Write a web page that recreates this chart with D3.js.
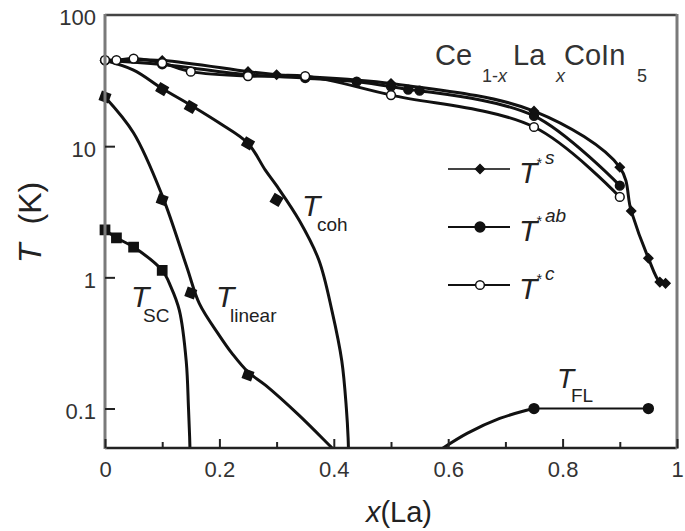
<!DOCTYPE html>
<html><head><meta charset="utf-8">
<script src="https://cdn.jsdelivr.net/npm/d3@7"></script>
<style>
html,body{margin:0;padding:0;background:#fff;}
svg{display:block;font-family:"Liberation Sans",Arial,sans-serif;}
</style></head>
<body>
<svg id="c" width="685" height="531"></svg>
<script>
// ---- data ----
const xTicksMajor = [0, 0.2, 0.4, 0.6, 0.8, 1];
const xTickLabels = ["0", "0.2", "0.4", "0.6", "0.8", "1"];
const xTicksMinor = [0.1, 0.3, 0.5, 0.7, 0.9];
const yTicks = [0.1, 1, 10, 100];
const yTickLabels = ["0.1", "1", "10", "100"];

// T*s (small filled diamonds)
const tsX = [0, 0.1, 0.25, 0.3, 0.5, 0.75, 0.9, 0.92, 0.95, 0.97, 0.98];
const tsV = [45, 45, 37, 35, 30, 18.5, 6.9, 3.2, 1.4, 0.92, 0.9];
// T*ab (filled circles)
const tabX = [0, 0.1, 0.25, 0.35, 0.44, 0.5, 0.53, 0.55, 0.75, 0.9];
const tabV = [45, 42, 35, 33, 31, 28.5, 27, 26.5, 17, 5.0];
// T*c (open circles)
const tcX = [0, 0.02, 0.05, 0.1, 0.15, 0.25, 0.35, 0.5, 0.75, 0.9];
const tcV = [45.3, 45.3, 46.5, 43, 37, 34.2, 34.2, 24.5, 14, 4.1];

// T_coh
const cohX = [0.1, 0.15, 0.25, 0.3];
const cohV = [27.2, 19.9, 10.5, 3.9];
const cohFitX = [0, 0.05, 0.1, 0.15, 0.2, 0.25, 0.28, 0.3, 0.34, 0.374, 0.397, 0.414, 0.422, 0.425, 0.426];
const cohFitV = [45, 38, 27.5, 20.5, 15, 10.5, 6.6, 5.0, 2.7, 1.35, 0.55, 0.23, 0.1, 0.06, 0.04];

// T_linear
const linX = [0, 0.1, 0.15, 0.25];
const linV = [23.7, 3.9, 0.76, 0.18];
const linFitX = [0, 0.05, 0.1, 0.143, 0.165, 0.2, 0.223, 0.25, 0.281, 0.339, 0.397, 0.41];
const linFitV = [23.7, 12.6, 4.2, 1.2, 0.63, 0.36, 0.26, 0.19, 0.15, 0.089, 0.05, 0.044];

// T_SC
const scX = [0, 0.02, 0.05, 0.1];
const scV = [2.3, 2.0, 1.7, 1.13];
const scFitX = [0, 0.02, 0.05, 0.1, 0.115, 0.13, 0.142, 0.146, 0.148, 0.149];
const scFitV = [2.3, 2.0, 1.7, 1.13, 0.85, 0.56, 0.23, 0.1, 0.06, 0.04];

// T_FL
const flX = [0.75, 0.95];
const flV = [0.1, 0.1];
const flFitX = [0.585, 0.633, 0.69, 0.737, 0.75];
const flFitV = [0.048, 0.0646, 0.084, 0.097, 0.1];

// ---- drawing ----
const svg = d3.select("#c");
const L = 105, R = 677, T = 15, B = 448;
const x = d3.scaleLinear().domain([0, 1]).range([L, R]);
const y = d3.scaleLog().domain([0.05, 100]).range([B, T]);
const ink = "#111";

svg.append("defs").append("clipPath").attr("id", "plot")
  .append("rect").attr("x", L).attr("y", T).attr("width", R - L).attr("height", B - T);

const zip = (xs, vs) => xs.map((d, i) => [d, vs[i]]);
const line = d3.line().x(d => x(d[0])).y(d => y(d[1])).curve(d3.curveCatmullRom.alpha(0.5));

const g = svg.append("g").attr("clip-path", "url(#plot)");
function curve(xs, vs, w) {
  g.append("path").datum(zip(xs, vs)).attr("d", line)
    .attr("fill", "none").attr("stroke", ink).attr("stroke-width", w)
    .attr("stroke-linejoin", "round").attr("stroke-linecap", "round");
}
curve(tcX, tcV, 3);
curve(tabX, tabV, 3);
curve(tsX, tsV, 3);
curve(cohFitX, cohFitV, 3);
curve(linFitX, linFitV, 3);
curve(scFitX, scFitV, 3);
curve(flFitX, flFitV, 3);
g.append("path").datum(zip(flX, flV)).attr("d", d3.line().x(d => x(d[0])).y(d => y(d[1])))
  .attr("fill", "none").attr("stroke", ink).attr("stroke-width", 1.8);

function marks(xs, vs, type, size, fill, rot) {
  svg.append("g").selectAll("path").data(zip(xs, vs)).join("path")
    .attr("d", d3.symbol().type(type).size(size))
    .attr("transform", d => `translate(${x(d[0])},${y(d[1])}) rotate(${rot || 0})`)
    .attr("fill", fill).attr("stroke", ink).attr("stroke-width", 1.5);
}
marks(tabX, tabV, d3.symbolCircle, 60, ink);
marks(tsX, tsV, d3.symbolSquare, 40, ink, 45);
marks(tcX, tcV, d3.symbolCircle, 60, "#fff");
marks(cohX, cohV, d3.symbolSquare, 80, ink, 30);
marks(linX, linV, d3.symbolSquare, 75, ink, 20);
marks(scX, scV, d3.symbolSquare, 85, ink);
marks(flX, flV, d3.symbolCircle, 75, ink);

// ---- frame & axes ----
svg.append("line").attr("x1", L).attr("x2", R).attr("y1", T).attr("y2", T).attr("stroke", "#444").attr("stroke-width", 2.5);
svg.append("line").attr("x1", L).attr("x2", R).attr("y1", B).attr("y2", B).attr("stroke", "#222").attr("stroke-width", 2.5);
svg.append("line").attr("x1", L).attr("x2", L).attr("y1", T - 1).attr("y2", B + 1).attr("stroke", "#7a7a7a").attr("stroke-width", 3);
svg.append("line").attr("x1", R).attr("x2", R).attr("y1", T - 1).attr("y2", B + 1).attr("stroke", "#7a7a7a").attr("stroke-width", 3);

const xAxis = svg.append("g").attr("transform", `translate(0,${B})`)
  .call(d3.axisBottom(x).tickValues(xTicksMajor).tickSize(-9).tickFormat((d, i) => xTickLabels[i]));
const xAxisMinor = svg.append("g").attr("transform", `translate(0,${B})`)
  .call(d3.axisBottom(x).tickValues(xTicksMinor).tickSize(-6).tickFormat(""));
const yAxis = svg.append("g").attr("transform", `translate(${L},0)`)
  .call(d3.axisLeft(y).tickValues(yTicks).tickSize(-10).tickFormat((d, i) => yTickLabels[i]));
[xAxis, xAxisMinor, yAxis].forEach(a => {
  a.select(".domain").remove();
  a.selectAll(".tick line").attr("stroke", "#222").attr("stroke-width", 2);
  a.selectAll(".tick text").attr("fill", "#333").attr("font-size", 22)
    .attr("font-family", "'Liberation Sans',Arial,sans-serif");
});
xAxis.selectAll(".tick text").attr("y", 13).attr("dy", "0.71em");
yAxis.selectAll(".tick text").attr("x", -9).attr("dy", "0.45em");
yAxis.selectAll(".tick").filter(d => d === 100).select("line").remove();

// axis titles
const xl = svg.append("text").attr("x", 399).attr("y", 522).attr("text-anchor", "middle")
  .attr("font-size", 29).attr("fill", "#222");
xl.append("tspan").attr("font-style", "italic").text("x");
xl.append("tspan").text("(La)");

const yl = svg.append("text").attr("transform", "translate(41,263) rotate(-90)")
  .attr("font-size", 32).attr("fill", "#222");
yl.append("tspan").attr("font-style", "italic").text("T");
yl.append("tspan").attr("dx", 19).text("(K)");

// compound name
const nm = svg.append("text").attr("font-size", 29).attr("fill", "#333");
nm.append("tspan").attr("x", 435).attr("y", 65).text("Ce");
nm.append("tspan").attr("x", 482).attr("y", 82).attr("font-size", 18).text("1-");
nm.append("tspan").attr("font-size", 18).attr("font-style", "italic").text("x");
nm.append("tspan").attr("x", 513).attr("y", 65).text("La");
nm.append("tspan").attr("x", 556).attr("y", 82).attr("font-size", 18).attr("font-style", "italic").text("x");
nm.append("tspan").attr("x", 564).attr("y", 65).text("CoIn");
nm.append("tspan").attr("x", 637).attr("y", 82).attr("font-size", 18).text("5");

// curve labels
function sublabel(tx, ty, sub, sx, sy, fs) {
  const t = svg.append("text").attr("fill", "#222");
  t.append("tspan").attr("x", tx).attr("y", ty).attr("font-size", fs || 30).attr("font-style", "italic").text("T");
  t.append("tspan").attr("x", sx).attr("y", sy).attr("font-size", 19).text(sub);
}
sublabel(302, 216, "coh", 317, 231);
sublabel(216, 307, "linear", 230, 322);
sublabel(131, 307, "SC", 143, 322);
sublabel(557, 388, "FL", 571, 402, 28);

// legend
const legendNames = ["s", "ab", "c"];
const legendY = [169, 227, 285];
const legendSym = [[d3.symbolSquare, 40, ink, 45], [d3.symbolCircle, 75, ink, 0], [d3.symbolCircle, 60, "#fff", 0]];
legendNames.forEach((n, i) => {
  const ly = legendY[i];
  svg.append("line").attr("x1", 448).attr("x2", 510).attr("y1", ly).attr("y2", ly)
    .attr("stroke", i === 0 ? "#444" : ink).attr("stroke-width", 2);
  svg.append("path").attr("d", d3.symbol().type(legendSym[i][0]).size(legendSym[i][1]))
    .attr("transform", `translate(480,${ly}) rotate(${legendSym[i][3]})`).attr("fill", legendSym[i][2])
    .attr("stroke", ink).attr("stroke-width", 1.5);
  const t = svg.append("text").attr("fill", "#222").attr("font-style", "italic");
  t.append("tspan").attr("x", 519).attr("y", ly + 14).attr("font-size", 30).text("T");
  t.append("tspan").attr("x", 536).attr("y", ly - 1).attr("font-size", 14).text("*");
  t.append("tspan").attr("x", 545).attr("y", ly - 5).attr("font-size", 19).text(n);
});
</script>
</body></html>
